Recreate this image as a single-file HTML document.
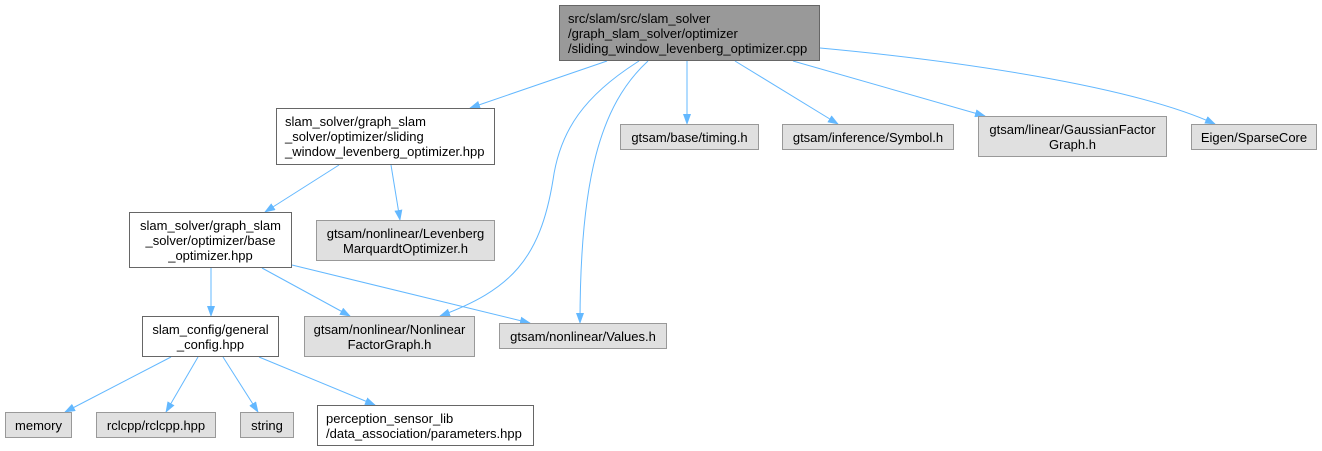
<!DOCTYPE html>
<html><head><meta charset="utf-8"><style>
body{margin:0;background:#fff;width:1322px;height:451px;overflow:hidden;position:relative;font-family:"Liberation Sans",Arial,sans-serif;font-size:13px;color:#000}
.n{position:absolute;box-sizing:border-box;border:1px solid #999;background:#e0e0e0;display:flex;align-items:center;justify-content:center;text-align:center;line-height:15px;white-space:pre}
.w{background:#fff;border-color:#666}
.r{background:#999;border-color:#666}
.l{text-align:left;justify-content:flex-start;padding-left:8px}
svg{position:absolute;left:0;top:0}
</style></head><body>
<svg width="1322" height="451" viewBox="0 0 1322 451">
<defs><marker id="a" markerUnits="userSpaceOnUse" markerWidth="11" markerHeight="8" refX="10" refY="4" orient="auto"><path d="M0,0 L11,4 L0,8z" fill="#63b8ff"/></marker></defs>
<g fill="none" stroke="#63b8ff" stroke-width="1" marker-end="url(#a)">
<path d="M607,61 L470,108"/>
<path d="M639,61 C585,95 560,130 553,180 C540,260 510,290 440,316"/>
<path d="M648,61 C600,105 580,180 580,323"/>
<path d="M687,61 L687,124"/>
<path d="M735,61 L838,124"/>
<path d="M793,61 L985,116"/>
<path d="M820,48 C950,60 1130,85 1215,124"/>
<path d="M339,165 L265,212"/>
<path d="M391,165 L400,220"/>
<path d="M211,268 L211,316"/>
<path d="M262,268 L350,316"/>
<path d="M292,265 L530,323"/>
<path d="M171,357 L65,412"/>
<path d="M198,357 L166,412"/>
<path d="M223,357 L258,412"/>
<path d="M259,357 L375,405"/>
</g></svg>
<div class="n r l" style="left:559px;top:5px;width:261px;height:56px">src/slam/src/slam_solver
/graph_slam_solver/optimizer
/sliding_window_levenberg_optimizer.cpp</div>
<div class="n w l" style="left:276px;top:108px;width:219px;height:57px">slam_solver/graph_slam
_solver/optimizer/sliding
_window_levenberg_optimizer.hpp</div>
<div class="n" style="left:620px;top:124px;width:139px;height:26px">gtsam/base/timing.h</div>
<div class="n" style="left:782px;top:124px;width:172px;height:26px">gtsam/inference/Symbol.h</div>
<div class="n" style="left:978px;top:116px;width:189px;height:41px">gtsam/linear/GaussianFactor
Graph.h</div>
<div class="n" style="left:1191px;top:124px;width:126px;height:26px">Eigen/SparseCore</div>
<div class="n w" style="left:129px;top:212px;width:163px;height:56px">slam_solver/graph_slam
_solver/optimizer/base
_optimizer.hpp</div>
<div class="n" style="left:316px;top:220px;width:179px;height:41px">gtsam/nonlinear/Levenberg
MarquardtOptimizer.h</div>
<div class="n w" style="left:142px;top:316px;width:137px;height:41px">slam_config/general
_config.hpp</div>
<div class="n" style="left:304px;top:316px;width:171px;height:41px">gtsam/nonlinear/Nonlinear
FactorGraph.h</div>
<div class="n" style="left:499px;top:323px;width:168px;height:26px">gtsam/nonlinear/Values.h</div>
<div class="n" style="left:5px;top:412px;width:67px;height:26px">memory</div>
<div class="n" style="left:96px;top:412px;width:120px;height:26px">rclcpp/rclcpp.hpp</div>
<div class="n" style="left:240px;top:412px;width:54px;height:26px">string</div>
<div class="n w l" style="left:317px;top:405px;width:217px;height:41px">perception_sensor_lib
/data_association/parameters.hpp</div>
</body></html>
